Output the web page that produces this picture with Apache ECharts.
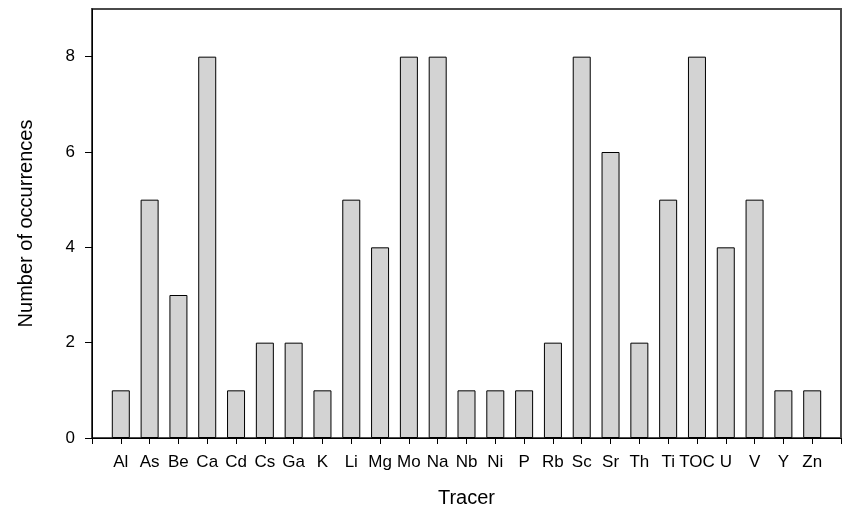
<!DOCTYPE html>
<html>
<head>
<meta charset="utf-8">
<script src="https://cdn.jsdelivr.net/npm/echarts@6/dist/echarts.min.js"></script>
<style>
  html, body { margin: 0; padding: 0; background: #fff; }
  #main { width: 844px; height: 509px; }
</style>
</head>
<body>
<div id="main"></div>
<script>
// tracer names, blank slots pad both ends of the axis
var tracers = ['Al', 'As', 'Be', 'Ca', 'Cd', 'Cs', 'Ga', 'K', 'Li', 'Mg', 'Mo', 'Na', 'Nb',
               'Ni', 'P', 'Rb', 'Sc', 'Sr', 'Th', 'Ti', 'TOC', 'U', 'V', 'Y', 'Zn'];
var occurrences = [1, 5, 3, 8, 1, 2, 2, 1, 5, 4, 8, 8, 1, 1, 1, 2, 8, 6, 2, 5, 8, 4, 5, 1, 1];
var yTicks = [0, 2, 4, 6, 8];

var cats = [''].concat(tracers, ['']);
var vals = ['-'].concat(occurrences, ['-']);

var myChart = echarts.init(document.getElementById('main'));
var font = 'Liberation Sans, Arial, sans-serif';
var option = {
    animation: false,
    grid: {
        left: 92,
        right: 3,
        top: 9,
        bottom: 71,
        outerBoundsMode: 'none',
        show: true,
        borderColor: '#4a4a4a',
        borderWidth: 2
    },
    xAxis: {
        type: 'category',
        data: cats,
        boundaryGap: false,
        name: 'Tracer',
        nameLocation: 'middle',
        nameGap: 50,
        nameTextStyle: { fontFamily: font, fontSize: 20, color: '#000' },
        axisLine: { lineStyle: { color: '#000', width: 1 } },
        axisTick: { show: true, length: 6, lineStyle: { color: '#000' } },
        axisLabel: { fontFamily: font, fontSize: 17, color: '#000', margin: 16, interval: 0 },
        splitLine: { show: false }
    },
    yAxis: {
        type: 'value',
        min: 0,
        max: 9,
        interval: 2,
        name: 'Number of occurrences',
        nameLocation: 'middle',
        nameGap: 56,
        nameTextStyle: { fontFamily: font, fontSize: 20, color: '#000' },
        axisLine: { show: true, lineStyle: { color: '#000', width: 1 } },
        axisTick: { show: true, length: 7, lineStyle: { color: '#000' } },
        axisLabel: {
            fontFamily: font, fontSize: 17, color: '#000', margin: 17,
            showMaxLabel: false,
            formatter: function (v) { return yTicks.indexOf(v) >= 0 ? String(v) : ''; }
        },
        splitLine: { show: false }
    },
    series: [
        {
            type: 'bar',
            data: vals,
            barWidth: 18,
            itemStyle: { color: '#d3d3d3', borderColor: '#000', borderWidth: 1 }
        }
    ]
};
myChart.setOption(option);
</script>
</body>
</html>
